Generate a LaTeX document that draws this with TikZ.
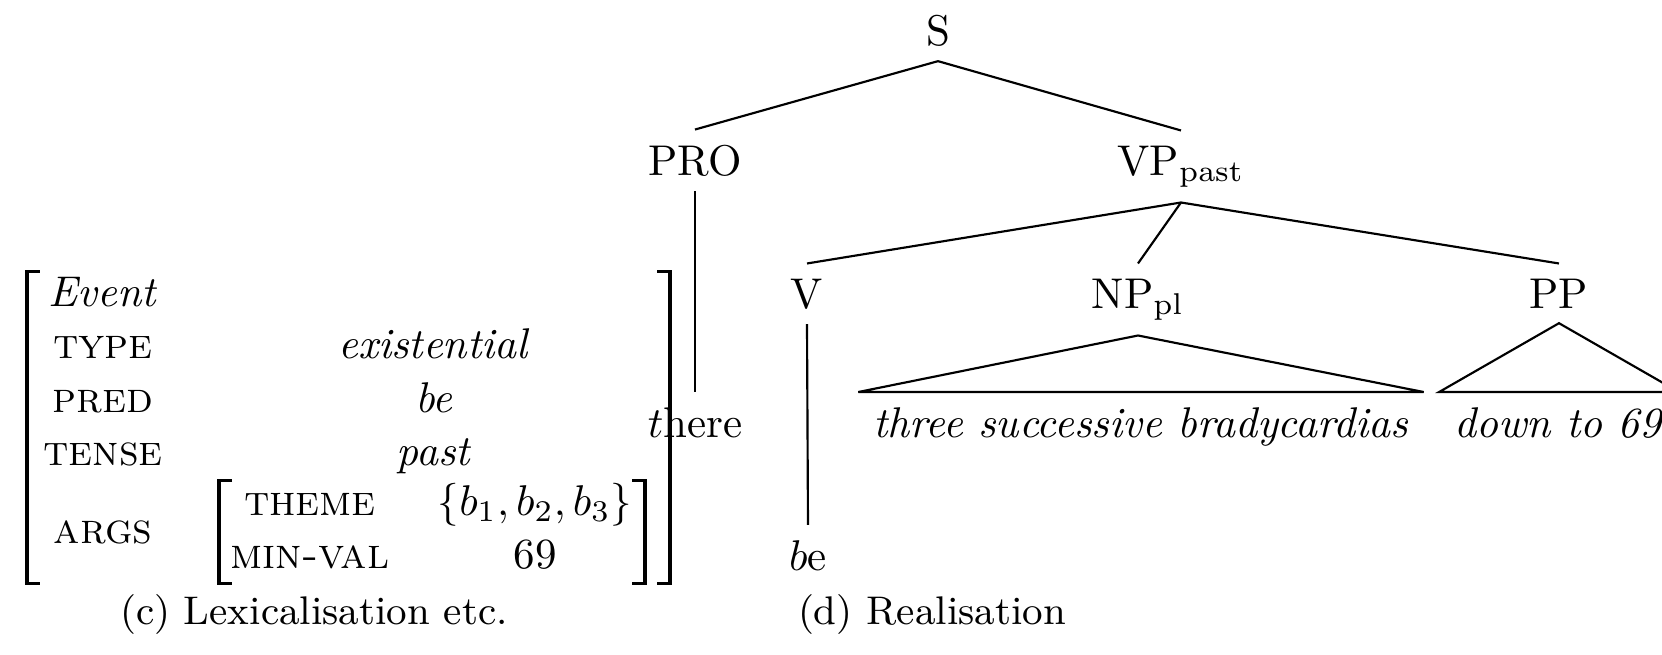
\documentclass[tikz,border=0pt]{standalone}
\begin{document}
\begin{tikzpicture}[x=0.2326pt,y=-0.2326pt,
  lbl/.style={anchor=base,inner sep=3.33pt},
  edge/.style={line width=0.5pt},
  avmtxt/.style={anchor=base,inner sep=0pt},
  brk/.style={line width=0.7pt},
  captxt/.style={anchor=base,inner sep=0pt,font=\fontsize{9.3}{11}\selectfont}]
\useasboundingbox (0,0) rectangle (1662,654);
% tree
\node[lbl] (s) at (938,45) {S};
\node[lbl] (pro) at (695,175) {PRO};
\node[lbl] (vp) at (1181,175) {VP$_{\mathrm{past}}$};
\node[lbl] (v) at (807,308) {V};
\node[lbl] (np) at (1138,308) {NP$_{\mathrm{pl}}$};
\node[lbl] (pp) at (1559,308) {PP};
\node[lbl] (there) at (695,437) {$t$here};
\node[lbl] (three) at (1141,437) {\textit{three successive bradycardias}};
\node[lbl] (down) at (1559,437) {\textit{down to 69}};
\node[lbl] (be) at (808,570) {$b$e};
\draw[edge] (s.south) -- (pro.north);
\draw[edge] (s.south) -- (vp.north);
\draw[edge] (vp.south) -- (v.north);
\draw[edge] (vp.south) -- (np.north);
\draw[edge] (vp.south) -- (pp.north);
\draw[edge] (pro.south) -- (there.north);
\draw[edge] (v.south) -- (be.north);
\draw[edge] (np.south) -- (three.north west) -- (three.north east) -- cycle;
\draw[edge] (pp.south) -- (down.north west) -- (down.north east) -- cycle;
% AVM
\node[avmtxt] (event) at (103,306) {\textit{Event}};
\node[avmtxt] (type) at (103,358) {\textsc{type}};
\node[avmtxt] (pred) at (103,412) {\textsc{pred}};
\node[avmtxt] (tense) at (103,465) {\textsc{tense}};
\node[avmtxt] (args) at (103,543) {\textsc{args}};
\node[avmtxt] (exist) at (434,358) {\textit{existential}};
\node[avmtxt] (bev) at (434,412) {\textit{be}};
\node[avmtxt] (past) at (434,465) {\textit{past}};
\node[avmtxt] (theme) at (310,515) {\textsc{theme}};
\node[avmtxt] (minval) at (310,568) {\textsc{min-val}};
\node[avmtxt] (bset) at (535,515) {$\{b_1,b_2,b_3\}$};
\node[avmtxt] (val) at (535,568) {69};
\draw[brk] (40,271) -| (27,583) -- (40,583);
\draw[brk] (657,271) -| (670,583) -- (657,583);
\draw[brk] (232,480) -| (219,583) -- (232,583);
\draw[brk] (632,480) -| (645,583) -- (632,583);
% captions
\node[captxt] (capc) at (314,624) {(c) Lexicalisation etc.};
\node[captxt] (capd) at (932,624) {(d) Realisation};
\end{tikzpicture}
\end{document}
